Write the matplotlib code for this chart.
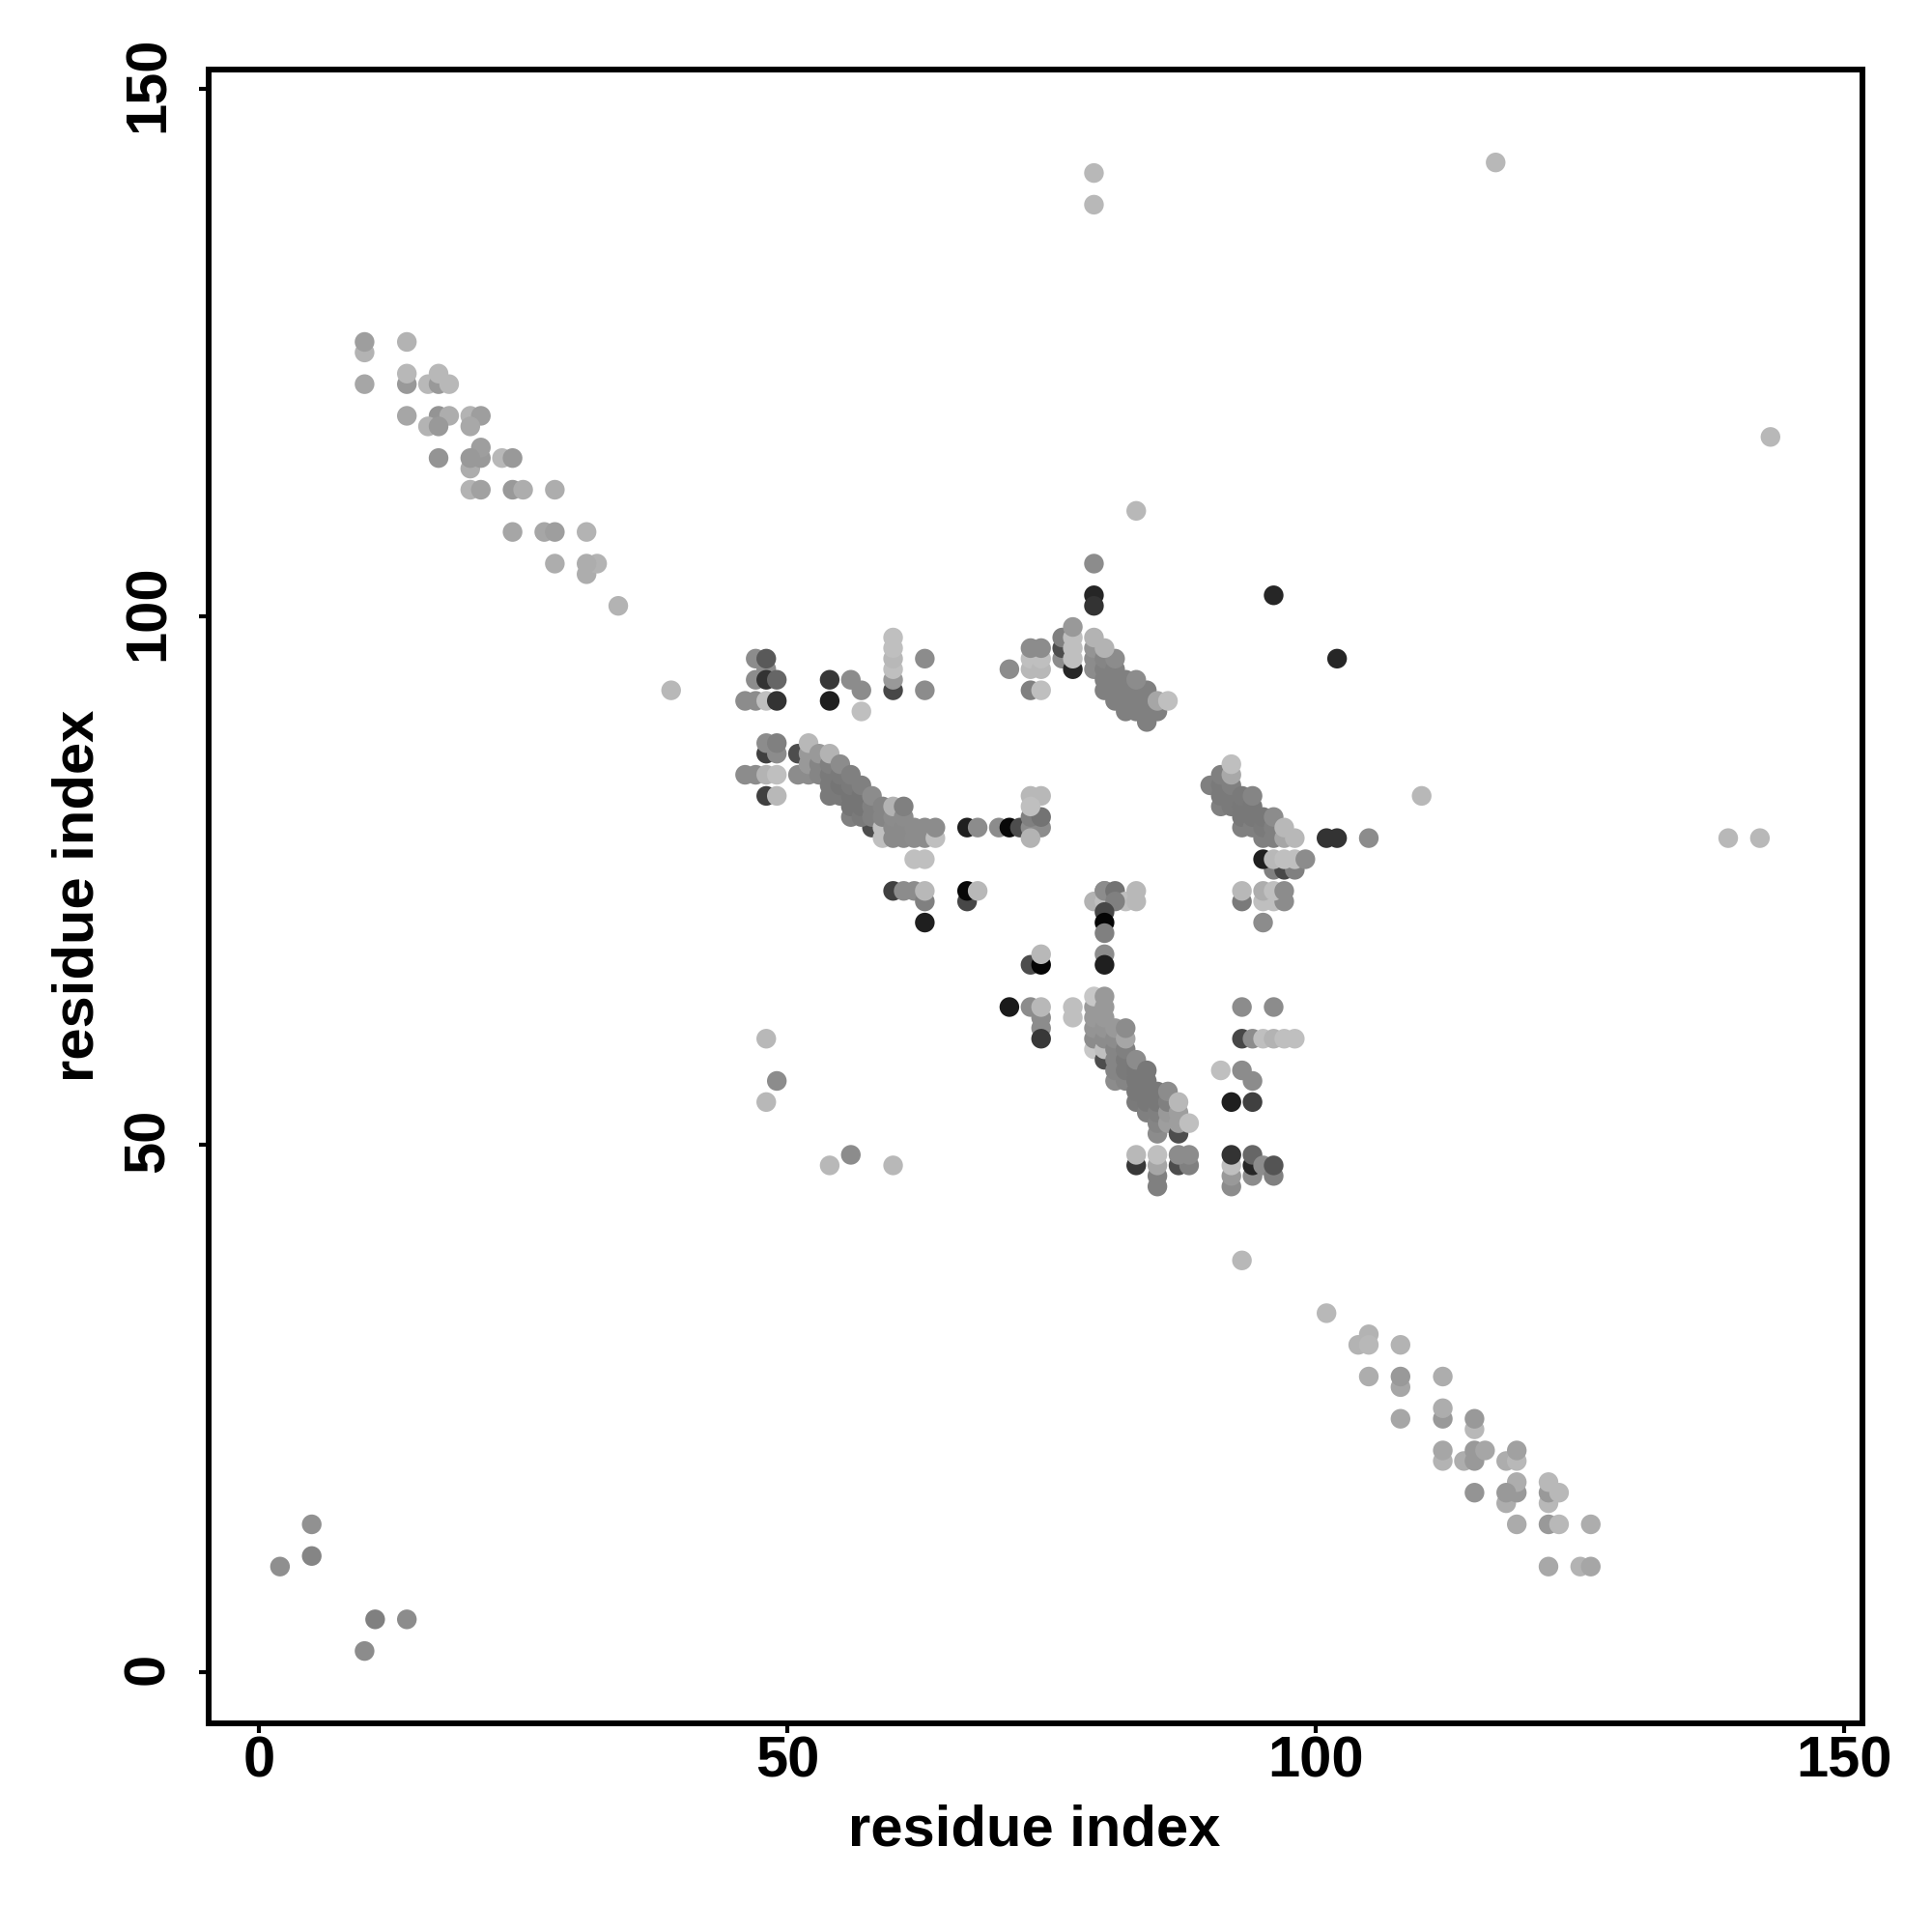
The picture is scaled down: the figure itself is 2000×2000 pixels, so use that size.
import matplotlib
matplotlib.use("Agg")
import matplotlib.pyplot as plt
from matplotlib.transforms import ScaledTranslation

# ---- data: residue pairs (x, y) with grey level, in drawing order ----
sparse_x = [79,79,117,143,83,79,79,79,96,102,110,139,142,39,48,49,48,54,56,60,93,2,5,5,11,14,10]
sparse_y = [142,139,143,117,110,105,102,101,102,96,83,79,79,93,60,56,54,48,49,48,39,10,11,14,5,5,2]
sparse_g = [.72,.72,.72,.72,.72,.55,.15,.2,.15,.15,.72,.72,.72,.72,.72,.55,.72,.72,.55,.72,.72,.56,.52,.57,.5,.55,.55]

upper_x = [10,10,14,10,14,14,16,17,17,18,14,17,18,20,21,16,17,20,17,20,21,21,20,23,24,20,21,24,25,28,24,27,28,31,28,31,32,31,34]
upper_y = [125,126,126,122,122,123,122,122,123,122,119,119,119,119,119,118,118,118,115,114,115,116,115,115,115,112,112,112,112,112,108,108,108,108,105,104,105,105,101]
upper_g = [.7,.62,.7,.65,.6,.72,.72,.6,.72,.72,.65,.58,.68,.7,.62,.7,.6,.66,.58,.68,.6,.62,.6,.72,.6,.7,.63,.6,.68,.68,.65,.65,.62,.7,.68,.68,.7,.68,.7]

lower_x = [101,105,104,105,108,105,108,108,112,108,112,112,115,115,112,112,114,115,115,116,118,119,119,115,118,119,119,118,122,122,123,122,119,122,123,126,122,125,126]
lower_y = [34,32,31,31,31,28,27,28,28,24,24,25,23,24,20,21,20,20,21,21,20,20,21,17,16,17,18,17,16,17,17,18,14,14,14,14,10,10,10]
lower_g = [.72,.7,.7,.72,.7,.68,.65,.6,.68,.65,.6,.68,.72,.6,.7,.65,.68,.6,.6,.65,.68,.72,.63,.58,.68,.6,.68,.6,.72,.6,.72,.72,.67,.6,.72,.68,.66,.7,.65]

left_x = [47,48,48,47,48,49,46,47,48,49,54,54,56,57,57,60,60,60,60,60,60,63,63,
          48,49,48,49,46,47,48,49,48,49,
          60,61,62,63,63,63,67,67,68,67,68,70,71,72,62,63]
left_y = [96,95,96,94,94,94,92,92,92,92,94,92,94,93,91,93,94,95,96,97,98,96,93,
          87,87,88,88,85,85,85,85,83,83,
          74,74,74,73,74,71,73,74,74,80,80,80,80,80,77,77]
left_g = [.55,.55,.35,.55,.2,.4,.55,.55,.75,.2,.22,.12,.55,.55,.75,.28,.6,.75,.72,.75,.75,.55,.55,
          .25,.55,.55,.5,.55,.55,.7,.75,.25,.72,
          .25,.55,.55,.5,.72,.12,.28,.03,.72,.12,.55,.55,.03,.3,.75,.75]

band_a_x = [51,58,51,52,52,52,52,53,53,53,54,54,54,54,54,55,55,55,55,56,56,56,56,56,57,57,57,57,58,58,58,59,59,59,59,60,60,60,60,61,61,61,61,62,62,63,63,64,64]
band_a_y = [87,80,85,85,86,87,88,85,86,87,83,84,85,86,87,83,84,85,86,81,82,83,84,85,81,82,83,84,81,82,83,79,80,81,82,79,80,81,82,79,80,81,82,79,80,79,80,79,80]
band_a_g = [.3,.3,.55,.55,.6,.6,.72,.52,.52,.6,.48,.48,.48,.5,.7,.48,.46,.48,.55,.5,.46,.46,.48,.5,.48,.46,.46,.5,.5,.5,.55,.75,.75,.52,.52,.54,.54,.55,.7,.54,.54,.55,.5,.55,.55,.55,.55,.75,.55]

band_b_x = [79,79,79,79,79,79,80,80,80,80,80,80,80,81,81,81,81,81,81,82,82,82,82,82,82,83,83,83,83,83,84,84,84,84,84,85,85,85,85,85,86,86,86,86,87,87,87,87,88]
band_b_y = [59,60,61,62,63,64,58,59,60,61,62,63,64,56,57,58,59,60,61,56,57,58,59,60,61,54,55,56,57,58,53,54,55,56,57,51,52,53,54,55,52,53,54,55,51,52,53,54,52]
band_b_g = [.78,.55,.58,.6,.6,.78,.3,.75,.55,.58,.6,.6,.6,.55,.52,.52,.52,.55,.6,.52,.48,.48,.5,.65,.55,.48,.47,.47,.47,.55,.5,.47,.47,.47,.47,.55,.52,.5,.47,.47,.62,.6,.5,.55,.3,.62,.62,.72,.75]

band_c_x = [90,91,91,91,91,92,92,92,92,92,93,93,93,93,94,94,94,94,95,95,95,96,96,96,97,97,98]
band_c_y = [84,82,83,84,85,82,83,84,85,86,80,81,82,83,80,81,82,83,79,80,81,79,80,81,79,80,79]
band_c_g = [.5,.5,.48,.48,.5,.48,.48,.5,.66,.75,.5,.47,.47,.48,.5,.47,.47,.52,.5,.48,.47,.5,.5,.55,.65,.72,.72]

band_d_x = [80,79,80,80,81,82,83,81,83,80,80,80,80,80,73,74,74,71,73,74,74,74,74,77,77,
            73,74,73,73,74,73,74,73,
            76,76,76,77,77,77,77,77,71,73,73,73,74,74,74,73,74]
band_d_y = [74,73,73,74,74,73,73,73,74,72,71,70,68,67,67,67,68,63,63,62,61,60,63,63,62,
            80,80,79,81,81,83,83,82,
            96,97,98,95,96,97,98,99,95,93,95,96,95,96,93,97,97]
band_d_g = [.55,.7,.75,.55,.45,.75,.72,.5,.72,.28,.02,.5,.55,.12,.3,.02,.72,.1,.55,.55,.55,.22,.72,.75,.75,
            .55,.55,.7,.5,.45,.72,.72,.75,
            .55,.3,.5,.15,.75,.75,.75,.6,.55,.5,.72,.75,.72,.75,.75,.55,.55]

band_e_x = [83,83,85,85,85,85,87,88,87,88,92,92,92,92,94,94,94,95,96,96,
            93,96,93,94,95,96,97,98,91,93,94,92,94,
            93,93,95,96,97,95,96,97,95,
            96,97,98,95,96,97,98,99,101,102,105]
band_e_y = [48,49,46,47,48,49,48,48,49,49,46,47,48,49,47,48,49,48,47,48,
            63,63,60,60,60,60,60,60,57,57,56,54,54,
            73,74,73,73,73,74,74,74,71,
            76,76,76,77,77,77,77,77,79,79,79]
band_e_g = [.22,.72,.5,.5,.65,.75,.3,.5,.55,.55,.55,.6,.75,.2,.55,.15,.4,.55,.5,.33,
            .55,.55,.28,.55,.75,.7,.75,.75,.75,.55,.55,.12,.25,
            .48,.72,.75,.75,.55,.68,.75,.55,.55,
            .5,.28,.5,.12,.72,.75,.75,.55,.2,.2,.55]

band_f_x = [79,79,79,80,80,80,80,81,81,81,81,82,82,82,82,83,83,83,84,84,84,84,85,83,81,85,79,80,86]
band_f_y = [95,96,97,93,94,95,96,92,93,94,95,91,92,93,94,91,92,93,90,91,92,93,91,94,96,92,98,97,92]
band_f_g = [.55,.55,.58,.5,.5,.5,.52,.5,.5,.5,.5,.5,.5,.5,.5,.5,.5,.5,.5,.5,.5,.5,.5,.55,.55,.65,.7,.7,.75]

groups = [(sparse_x, sparse_y, sparse_g), (upper_x, upper_y, upper_g), (lower_x, lower_y, lower_g),
          (left_x, left_y, left_g), (band_a_x, band_a_y, band_a_g), (band_b_x, band_b_y, band_b_g),
          (band_c_x, band_c_y, band_c_g), (band_d_x, band_d_y, band_d_g), (band_e_x, band_e_y, band_e_g),
          (band_f_x, band_f_y, band_f_g)]

tick_values = [0, 50, 100, 150]

plt.rcParams['font.family'] = ['Liberation Sans', 'DejaVu Sans']
fig = plt.figure(figsize=(20, 20), dpi=100)
ax = fig.add_axes([216/2000, 216/2000, (1928-216)/2000, (1784-72)/2000])
for xs, ys, gs in groups:
    ax.scatter(xs, ys, s=215, c=[str(g) for g in gs], linewidths=0, zorder=3)

ax.set_xlim(-4.75, 151.7)
ax.set_ylim(-4.85, 151.8)
ax.set_xticks(tick_values)
ax.set_yticks(tick_values)
ax.tick_params(axis='both', length=7, width=3, color='black', labelsize=43)
ax.tick_params(axis='x', pad=2)
ax.tick_params(axis='y', pad=18)
lift = ScaledTranslation(0, 4/100, fig.dpi_scale_trans)
for lab in ax.get_xticklabels():
    lab.set_fontweight('bold')
for lab in ax.get_yticklabels():
    lab.set_fontweight('bold')
    lab.set_rotation(90)
    lab.set_va('center')
    lab.set_transform(lab.get_transform() + lift)
for s in ax.spines.values():
    s.set_linewidth(4.3)

ax.set_xlabel('residue index', fontsize=43, fontweight='bold')
ax.set_ylabel('residue index', fontsize=43, fontweight='bold')
ax.xaxis.set_label_coords((1071-216)/1712, (1784-1895)/1712, transform=ax.transAxes)
ax.yaxis.set_label_coords((81-216)/1712, (1784-927)/1712, transform=ax.transAxes)
ax.xaxis.label.set_va('center')
ax.yaxis.label.set_va('center')

fig.savefig('out.png', dpi=100, facecolor='white')
